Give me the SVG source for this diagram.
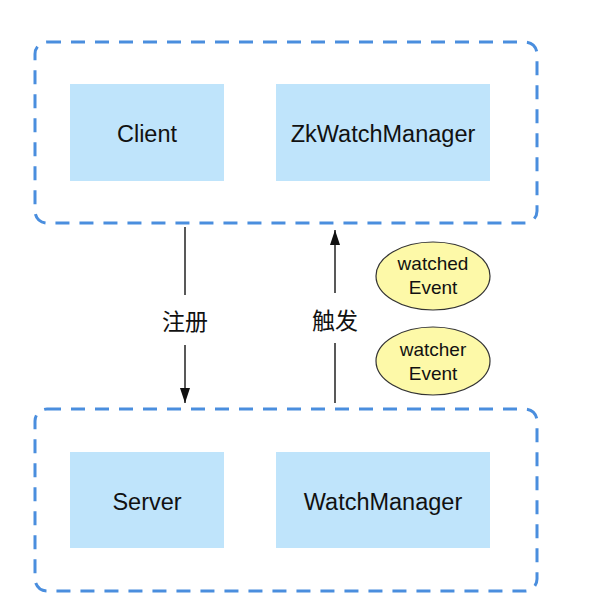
<svg xmlns="http://www.w3.org/2000/svg" width="600" height="611" viewBox="0 0 600 611">
<defs>
<style>
.group{fill:none;stroke:#4a8ede;stroke-width:3;stroke-dasharray:14 10}
.box{fill:#bfe4fb}
.lbl{font-family:"Liberation Sans",Arial,sans-serif;font-size:23.5px;fill:#111;text-anchor:middle}
.cn{font-family:"Noto Sans CJK SC","Liberation Sans",sans-serif;font-size:23px;fill:#111;text-anchor:middle}
.ev{fill:#fdf9a8;stroke:#333;stroke-width:1.2}
.evt{font-family:"Liberation Sans",Arial,sans-serif;font-size:19px;fill:#111;text-anchor:middle}
.line{stroke:#222;stroke-width:1.5;fill:none}
</style>
<marker id="ah" viewBox="0 0 15 10" refX="15" refY="5" markerWidth="15" markerHeight="10" markerUnits="userSpaceOnUse" orient="auto">
<path d="M0,0 L15,5 L0,10 Z" fill="#111"/>
</marker>
</defs>
<rect width="600" height="611" fill="#fff"/>
<g id="client-group"><rect class="group" x="35" y="42" width="502" height="181" rx="12"/></g>
<g id="server-group"><rect class="group" x="35" y="409" width="502" height="182" rx="12"/></g>
<g id="client"><rect class="box" x="70" y="84" width="154" height="97"/><text class="lbl" x="147" y="142">Client</text></g>
<g id="zkwatchmanager"><rect class="box" x="276" y="84" width="214" height="97"/><text class="lbl" x="383" y="142">ZkWatchManager</text></g>
<g id="server"><rect class="box" x="70" y="452" width="154" height="96"/><text class="lbl" x="147" y="510">Server</text></g>
<g id="watchmanager"><rect class="box" x="276" y="452" width="214" height="96"/><text class="lbl" x="383" y="510">WatchManager</text></g>
<g id="watched-event"><ellipse class="ev" cx="433" cy="276" rx="57" ry="34"/><text class="evt" x="433" y="270">watched</text><text class="evt" x="433" y="294">Event</text></g>
<g id="watcher-event"><ellipse class="ev" cx="433" cy="361" rx="57" ry="34"/><text class="evt" x="433" y="356">watcher</text><text class="evt" x="433" y="380">Event</text></g>
<g id="connectors">
<line class="line" x1="185" y1="227" x2="185" y2="295"/>
<line class="line" x1="185" y1="345" x2="185" y2="403" marker-end="url(#ah)"/>
<text class="cn" x="185" y="330">注册</text>
<line class="line" x1="335" y1="403" x2="335" y2="343"/>
<line class="line" x1="335" y1="293" x2="335" y2="230" marker-end="url(#ah)"/>
<text class="cn" x="335" y="329">触发</text>
</g>
</svg>
